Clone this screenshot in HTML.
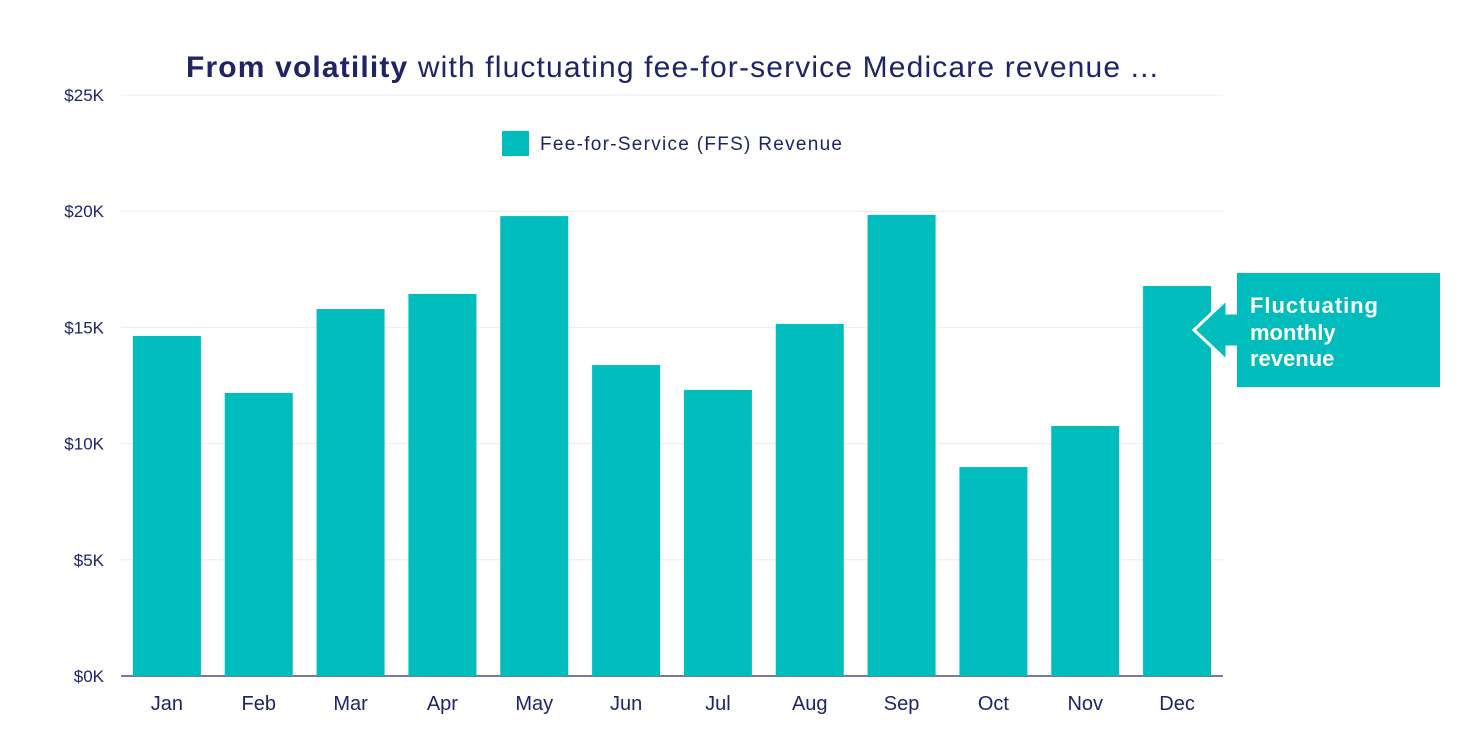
<!DOCTYPE html>
<html><head><meta charset="utf-8"><style>
body{margin:0;background:#fff;}
svg{display:block;font-family:"Liberation Sans",sans-serif;}
</style></head><body>
<svg id="chart" width="1480" height="744">
<text x="186" y="77" font-size="30" fill="#1f2466" textLength="972" lengthAdjust="spacing"><tspan font-weight="bold">From volatility</tspan> with fluctuating fee-for-service Medicare revenue ...</text>
<g id="grid"></g>
<g id="bars"></g>
<g id="xlabels"></g>
<rect x="502" y="131" width="27" height="25" fill="#00bdbd"/>
<text x="540" y="150" font-size="19" fill="#1f2466" textLength="302" lengthAdjust="spacing">Fee-for-Service (FFS) Revenue</text>
<g>
<polygon points="1194,330 1227,299 1227,313 1240,313 1240,347 1227,347 1227,361" fill="#00bdbd" stroke="#fff" stroke-width="3"/>
<rect x="1237" y="273" width="203" height="114" fill="#00bdbd"/>
<text font-size="22" font-weight="bold" fill="#fff"><tspan x="1250" y="313" textLength="128" lengthAdjust="spacing">Fluctuating</tspan><tspan x="1250" y="340">monthly</tspan><tspan x="1250" y="366">revenue</tspan></text>
</g>
</svg>
<script>
const months=["Jan","Feb","Mar","Apr","May","Jun","Jul","Aug","Sep","Oct","Nov","Dec"];
const revenue=[14.63,12.18,15.79,16.44,19.79,13.38,12.31,15.15,19.84,8.99,10.76,16.78];
const ticks=[0,5,10,15,20,25];
const tickLabels=["$0K","$5K","$10K","$15K","$20K","$25K"];
const NS="http://www.w3.org/2000/svg";
const x0=121,x1=1223,y0=676,y1=95,maxV=25;
const band=(x1-x0)/months.length;
const y=v=>y0-(v/maxV)*(y0-y1);
function mk(t,a,p){const e=document.createElementNS(NS,t);for(const k in a)e.setAttribute(k,a[k]);p.appendChild(e);return e;}
const g=document.getElementById('grid');
ticks.forEach((t,i)=>{
 const l=mk('line',{x1:x0,x2:x1,y1:y(t),y2:y(t),stroke:i==0?'#4a4f8a':'#ececec','stroke-width':i==0?1.5:1},g);
 
 
 const tx=mk('text',{x:104,y:y(t)+6,'text-anchor':'end','font-size':17,fill:'#1f2466'},g);
 tx.textContent=tickLabels[i];
 
 
});
const b=document.getElementById('bars'),xl=document.getElementById('xlabels');
months.forEach((m,i)=>{
 const cx=x0+band*(i+0.5);
 const r=mk('rect',{x:cx-34,y:y(revenue[i]),width:68,height:y0-y(revenue[i]),fill:'#00bdbd'},b);
 
 
 const t=mk('text',{x:cx,y:710,'text-anchor':'middle','font-size':20,fill:'#1f2466'},xl);
 t.textContent=m;
 
 
});
</script>
</body></html>
